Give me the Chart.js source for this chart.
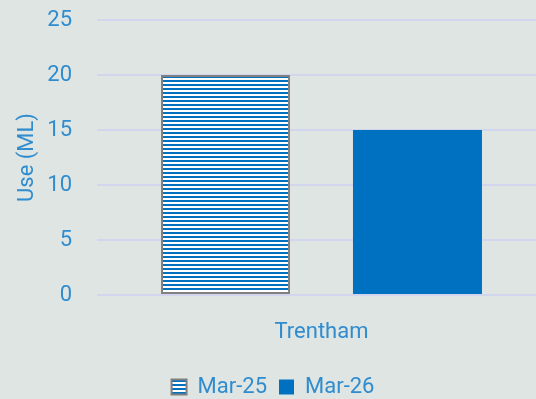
<!DOCTYPE html>
<html>
<head>
<meta charset="utf-8">
<script src="https://cdn.jsdelivr.net/npm/chart.js@4/dist/chart.umd.min.js"></script>
<style>
  html, body { margin: 0; padding: 0; background: #dfe5e2; overflow: hidden; }
  #wrap { width: 546px; height: 408px; }
</style>
</head>
<body>
<div id="wrap"><canvas id="useChart"></canvas></div>
<script>
const categories = ["Trentham"];
const seriesNames = ["Mar-25", "Mar-26"];
const mar25Values = [20];
const mar26Values = [15];
const yTicks = [0, 5, 10, 15, 20, 25];

const textColor = "#2f8ccf";
const barBlue = "#0070c0";

// horizontal stripe fill for the first series
function stripePattern() {
  const c = document.createElement("canvas");
  c.width = 4;
  c.height = 4;
  const ctx = c.getContext("2d");
  ctx.fillStyle = "#ffffff";
  ctx.fillRect(0, 0, 4, 4);
  ctx.fillStyle = barBlue;
  ctx.fillRect(0, 0, 4, 2);
  return ctx.createPattern(c, "repeat");
}

const font = { family: "Roboto", size: 22 };

new Chart(document.getElementById("useChart"), {
  type: "bar",
  data: {
    labels: categories,
    datasets: [
      {
        label: seriesNames[0],
        data: mar25Values,
        backgroundColor: stripePattern(),
        borderColor: "#808080",
        borderWidth: 2,
        borderSkipped: false,
        categoryPercentage: 0.855,
        barPercentage: 0.672,
      },
      {
        label: seriesNames[1],
        data: mar26Values,
        backgroundColor: barBlue,
        borderWidth: 0,
        categoryPercentage: 0.855,
        barPercentage: 0.672,
      },
    ],
  },
  options: {
    responsive: true,
    maintainAspectRatio: false,
    animation: false,
    layout: { padding: { top: 20, left: 0, right: 0, bottom: 0 } },
    plugins: {
      tooltip: { enabled: false },
      legend: {
        position: "bottom",
        labels: {
          color: textColor,
          font,
          boxWidth: 15,
          boxHeight: 15,
          padding: 12,
        },
      },
    },
    scales: {
      x: {
        grid: { display: false },
        border: { display: false },
        ticks: { color: textColor, font, padding: 16 },
        afterFit: (axis) => {
          axis.height = 69;
        },
      },
      y: {
        min: 0,
        max: 25,
        afterBuildTicks: (axis) => {
          axis.ticks = yTicks.map((v) => ({ value: v }));
        },
        afterFit: (axis) => {
          axis.width = 97;
          axis.paddingTop = 0;
        },
        grid: { color: "#d2d5ee", lineWidth: 2, drawTicks: false },
        border: { display: false },
        ticks: { color: textColor, font, padding: 25 },
        title: { display: true, text: "Use (ML)", color: textColor, font, padding: { top: 14, bottom: 0 } },
      },
    },
  },
});
</script>
</body>
</html>
